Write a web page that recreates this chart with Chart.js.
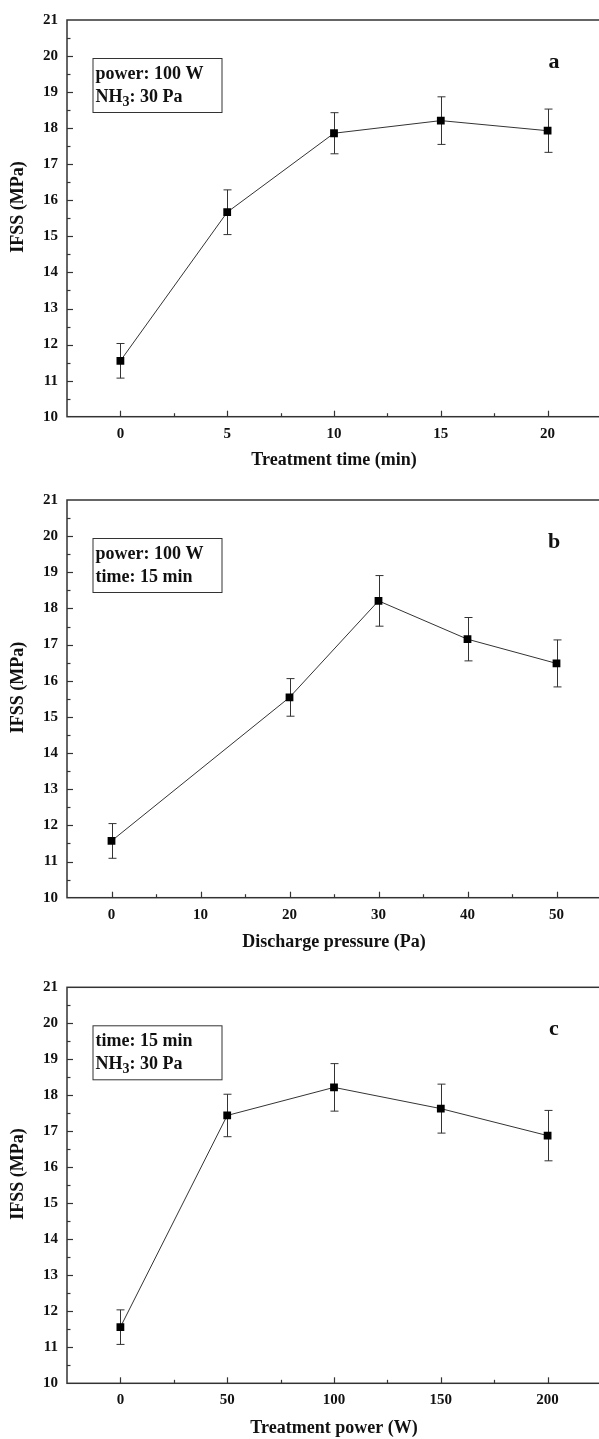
<!DOCTYPE html>
<html>
<head>
<meta charset="utf-8">
<script src="https://cdn.jsdelivr.net/npm/chart.js@4.4.1/dist/chart.umd.min.js"></script>
<style>
    html, body { margin: 0; padding: 0; background: #fff; overflow: hidden; }
    body { width: 599px; height: 1439px; position: relative; }
    canvas { position: absolute; left: 0; }
</style>
</head>
<body>
<canvas id="chartA"></canvas>
<canvas id="chartB"></canvas>
<canvas id="chartC"></canvas>
<script>
// shared y axis
var yTicks = [10, 11, 12, 13, 14, 15, 16, 17, 18, 19, 20, 21];

// (a) treatment time
var timeValues = [0, 5, 10, 15, 20];
var timeIfss = [11.55, 15.67, 17.86, 18.21, 17.93];
var timeErrors = [0.48, 0.62, 0.57, 0.66, 0.60];
var timeTicks = [0, 5, 10, 15, 20];

// (b) discharge pressure
var pressureValues = [0, 20, 30, 40, 50];
var pressureIfss = [11.57, 15.54, 18.21, 17.15, 16.48];
var pressureErrors = [0.48, 0.52, 0.70, 0.60, 0.65];
var pressureTicks = [0, 10, 20, 30, 40, 50];

// (c) treatment power
var powerValues = [0, 50, 100, 150, 200];
var powerIfss = [11.56, 17.44, 18.22, 17.63, 16.88];
var powerErrors = [0.48, 0.59, 0.66, 0.68, 0.70];
var powerTicks = [0, 50, 100, 150, 200];

var fontName = "'Liberation Serif', 'Times New Roman', serif";
var inkColor = '#111';
var lineColor = '#333';

// text with "_3" style subscripts
function drawRichText(ctx, text, x, y, size) {
    var parts = text.split('_');
    ctx.font = 'bold ' + size + 'px ' + fontName;
    ctx.fillText(parts[0], x, y);
    x += ctx.measureText(parts[0]).width;
    for (var i = 1; i < parts.length; ++i) {
        var sub = parts[i].charAt(0);
        var rest = parts[i].substring(1);
        ctx.font = 'bold ' + Math.round(size * 0.8) + 'px ' + fontName;
        ctx.fillText(sub, x, y + 5);
        x += ctx.measureText(sub).width;
        ctx.font = 'bold ' + size + 'px ' + fontName;
        ctx.fillText(rest, x, y);
        x += ctx.measureText(rest).width;
    }
}

function drawAxisTicks(ctx, scale, step, minorStep, area, horizontal) {
    var first = Math.ceil(scale.min / minorStep - 1e-9);
    for (var k = first; k * minorStep <= scale.max + 1e-9; ++k) {
        var v = k * minorStep;
        if (Math.abs(v - scale.min) < 1e-9 || Math.abs(v - scale.max) < 1e-9) continue;
        var isMajor = Math.abs(v / step - Math.round(v / step)) < 1e-6;
        var len = isMajor ? 6 : 3.5;
        var pos = Math.round(scale.getPixelForValue(v)) + 0.5;
        ctx.beginPath();
        if (horizontal) {
            ctx.moveTo(pos, area.bottom);
            ctx.lineTo(pos, area.bottom - len);
        } else {
            ctx.moveTo(area.left, pos);
            ctx.lineTo(area.left + len, pos);
        }
        ctx.stroke();
    }
}

function makePanel(cfg) {
    var canvas = document.getElementById(cfg.id);
    canvas.width = 610;
    canvas.height = cfg.height;
    canvas.style.top = cfg.top + 'px';

    var points = [];
    for (var i = 0; i < cfg.xValues.length; ++i) {
        points.push({ x: cfg.xValues[i], y: cfg.yValues[i] });
    }

    var figurePlugin = {
        id: 'figure' + cfg.id,
        beforeDatasetsDraw: function(chart) {
            // error bars
            var ctx = chart.ctx, xs = chart.scales.x, ys = chart.scales.y;
            ctx.save();
            ctx.strokeStyle = lineColor;
            ctx.lineWidth = 1;
            for (var i = 0; i < cfg.xValues.length; ++i) {
                var x = Math.round(xs.getPixelForValue(cfg.xValues[i])) + 0.5;
                var top = ys.getPixelForValue(cfg.yValues[i] + cfg.errors[i]);
                var bottom = ys.getPixelForValue(cfg.yValues[i] - cfg.errors[i]);
                ctx.beginPath();
                ctx.moveTo(x, top); ctx.lineTo(x, bottom);
                ctx.moveTo(x - 4, top); ctx.lineTo(x + 4, top);
                ctx.moveTo(x - 4, bottom); ctx.lineTo(x + 4, bottom);
                ctx.stroke();
            }
            ctx.restore();
        },
        afterDraw: function(chart) {
            var ctx = chart.ctx, area = chart.chartArea;
            ctx.save();
            // frame
            ctx.strokeStyle = lineColor;
            ctx.lineWidth = 1.5;
            ctx.strokeRect(area.left, area.top, area.right - area.left, area.bottom - area.top);
            // inward ticks
            ctx.lineWidth = 1.2;
            drawAxisTicks(ctx, chart.scales.x, cfg.step, cfg.minorStep, area, true);
            drawAxisTicks(ctx, chart.scales.y, 1, 0.5, area, false);
            // condition box
            var bx = area.left + 25.5, by = area.top + 38;
            ctx.lineWidth = 1;
            ctx.strokeRect(bx + 0.5, by + 0.5, 129, 54);
            ctx.fillStyle = inkColor;
            ctx.textBaseline = 'middle';
            ctx.textAlign = 'left';
            drawRichText(ctx, cfg.boxLines[0], bx + 3, by + 16, 18);
            drawRichText(ctx, cfg.boxLines[1], bx + 3, by + 39, 18);
            // panel letter
            ctx.textAlign = 'center';
            ctx.font = 'bold 22px ' + fontName;
            ctx.fillText(cfg.letter, area.left + 487, area.top + 42);
            ctx.restore();
        }
    };

    return new Chart(canvas.getContext('2d'), {
        type: 'scatter',
        data: {
            datasets: [{
                data: points,
                showLine: true,
                borderColor: lineColor,
                borderWidth: 1,
                pointStyle: 'rect',
                pointRadius: 5.5,
                pointBackgroundColor: '#000',
                pointBorderWidth: 0
            }]
        },
        options: {
            responsive: false,
            animation: false,
            layout: { padding: { top: cfg.padTop, right: 9, bottom: 0, left: 0 } },
            plugins: {
                legend: { display: false },
                tooltip: { enabled: false }
            },
            scales: {
                x: {
                    type: 'linear',
                    min: cfg.min,
                    max: cfg.max,
                    afterBuildTicks: function(scale) {
                        scale.ticks = cfg.ticks.map(function(v) { return { value: v }; });
                    },
                    afterFit: function(scale) { scale.height = cfg.xHeight; },
                    grid: { display: false, drawTicks: false },
                    border: { display: false },
                    ticks: {
                        padding: 8,
                        color: inkColor,
                        font: { family: fontName, size: 15, weight: 'bold' }
                    },
                    title: {
                        display: true,
                        text: cfg.xTitle,
                        color: inkColor,
                        font: { family: fontName, size: 18, weight: 'bold' },
                        padding: { top: 0, bottom: cfg.titlePad }
                    }
                },
                y: {
                    min: 10,
                    max: 21,
                    afterBuildTicks: function(scale) {
                        scale.ticks = yTicks.map(function(v) { return { value: v }; });
                    },
                    afterFit: function(scale) { scale.width = 67; },
                    grid: { display: false, drawTicks: false },
                    border: { display: false },
                    ticks: {
                        padding: 9,
                        color: inkColor,
                        font: { family: fontName, size: 15, weight: 'bold' }
                    },
                    title: {
                        display: true,
                        // leading blanks nudge the rotated title up a little, as in the figure
                        text: '\u00a0\u00a0\u00a0\u00a0\u00a0IFSS (MPa)',
                        color: inkColor,
                        font: { family: fontName, size: 18, weight: 'bold' },
                        padding: { top: 8, bottom: 0 }
                    }
                }
            }
        },
        plugins: [figurePlugin]
    });
}

makePanel({
    id: 'chartA', top: 0, height: 480, padTop: 20, xHeight: 63.3, titlePad: 9,
    xValues: timeValues, yValues: timeIfss, errors: timeErrors, ticks: timeTicks,
    min: -2.5, max: 22.5, step: 5, minorStep: 2.5,
    xTitle: 'Treatment time (min)', letter: 'a',
    boxLines: ['power: 100 W', 'NH_3: 30 Pa']
});

makePanel({
    id: 'chartB', top: 480, height: 487, padTop: 20, xHeight: 69.3, titlePad: 14,
    xValues: pressureValues, yValues: pressureIfss, errors: pressureErrors, ticks: pressureTicks,
    min: -5, max: 55, step: 10, minorStep: 5,
    xTitle: 'Discharge pressure (Pa)', letter: 'b',
    boxLines: ['power: 100 W', 'time: 15 min']
});

makePanel({
    id: 'chartC', top: 967, height: 472, padTop: 20.3, xHeight: 55.7, titlePad: 0,
    xValues: powerValues, yValues: powerIfss, errors: powerErrors, ticks: powerTicks,
    min: -25, max: 225, step: 50, minorStep: 25,
    xTitle: 'Treatment power (W)', letter: 'c',
    boxLines: ['time: 15 min', 'NH_3: 30 Pa']
});
</script>
</body>
</html>
